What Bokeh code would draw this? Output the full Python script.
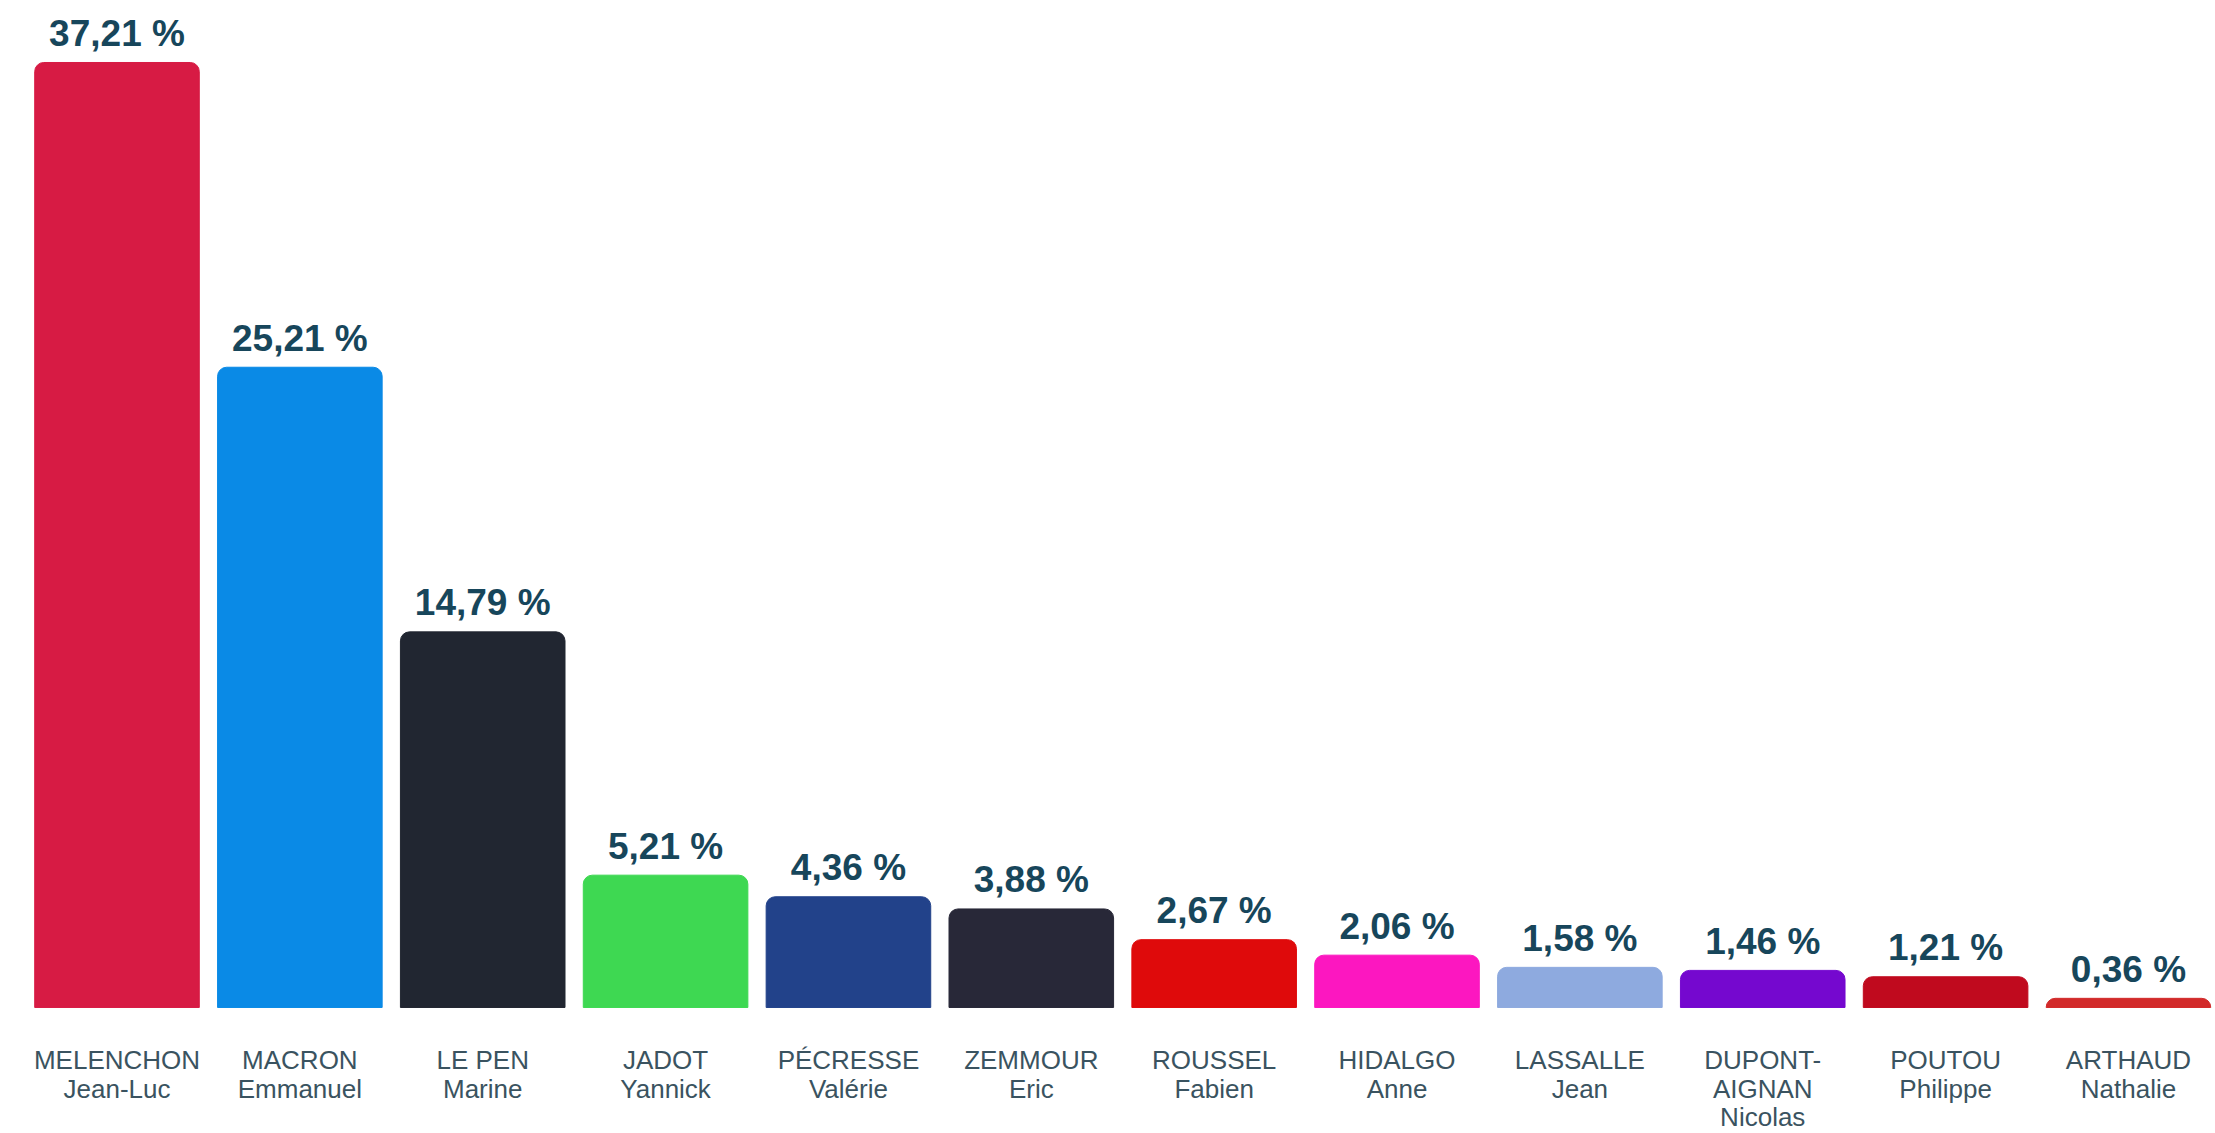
from bokeh.plotting import figure
from bokeh.models import ColumnDataSource, Range1d
from bokeh.core.properties import value
from bokeh.embed import file_html
from bokeh.resources import INLINE

# ---- data ----
keys = ["MELENCHON", "MACRON", "LE PEN", "JADOT", "PECRESSE", "ZEMMOUR",
        "ROUSSEL", "HIDALGO", "LASSALLE", "DUPONT-AIGNAN", "POUTOU", "ARTHAUD"]
names = ["MELENCHON\nJean-Luc", "MACRON\nEmmanuel", "LE PEN\nMarine",
         "JADOT\nYannick", "PÉCRESSE\nValérie", "ZEMMOUR\nEric",
         "ROUSSEL\nFabien", "HIDALGO\nAnne", "LASSALLE\nJean",
         "DUPONT-\nAIGNAN\nNicolas", "POUTOU\nPhilippe", "ARTHAUD\nNathalie"]
scores = [37.21, 25.21, 14.79, 5.21, 4.36, 3.88, 2.67, 2.06, 1.58, 1.46, 1.21, 0.36]
colors = ["#d71b44", "#0a8ae6", "#212631", "#3ed852", "#22428a", "#282838",
          "#df0a0b", "#fc17c0", "#8eaadf", "#7508cf", "#c00a1e", "#d22a2a"]
labels = [f"{v:.2f}".replace(".", ",") + " %" for v in scores]

# category positions (one slot per candidate)
pos = list(range(len(keys)))

src = ColumnDataSource(dict(x=pos, key=keys, name=names, score=scores, color=colors,
                            label=labels, base=[0] * len(keys)))

p = figure(width=2215, height=1133, output_backend="svg", toolbar_location=None,
           x_range=Range1d(-0.6371, 11.476),
           y_range=Range1d(-4.962, 39.651),
           min_border_left=0, min_border_right=0, min_border_top=0, min_border_bottom=0)

p.vbar(x="x", top="score", bottom=0, width=0.9, color="color", source=src,
       border_radius=(9, 9, 0, 0))

p.text(x="x", y="score", text="label", source=src, text_align="center",
       text_baseline="alphabetic", y_offset=-29,
       text_font=value("Liberation Sans"), text_font_style="bold",
       text_font_size="37px", text_color="#17465b")

p.text(x="x", y="base", text="name", source=src, text_align="center",
       text_baseline="top", y_offset=38, text_line_height=0.95,
       text_font=value("Liberation Sans"), text_font_size="26px",
       text_color="#3a5360")

p.axis.visible = False
p.grid.visible = False
p.outline_line_color = None
p.background_fill_color = "white"
p.border_fill_color = "white"

open("out.html", "w").write(file_html(p, INLINE))
